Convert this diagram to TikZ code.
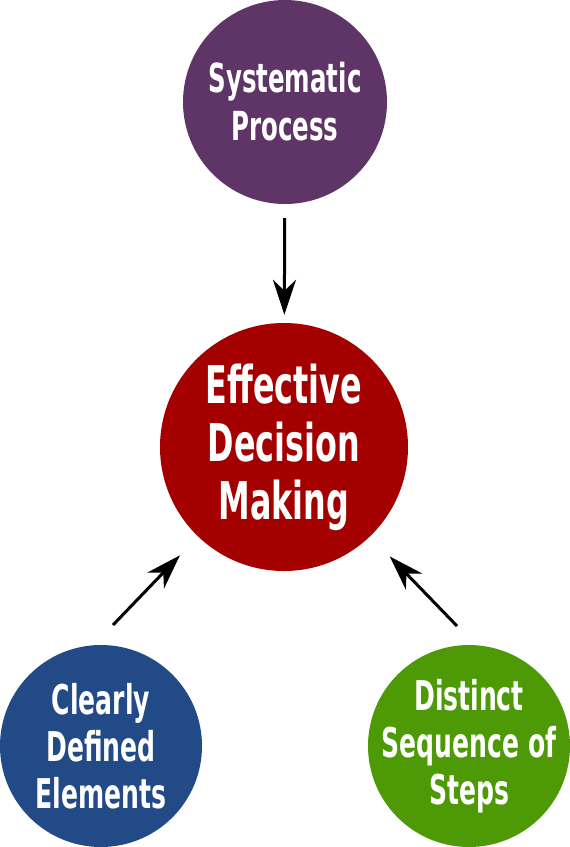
\documentclass[tikz,border=0pt]{standalone}
\usepackage{fontspec}
\setmainfont{DejaVu Sans Condensed}[BoldFont={DejaVu Sans Condensed Bold},BoldFeatures={FakeStretch=0.68},FakeStretch=0.68]
\usetikzlibrary{arrows.meta}
\definecolor{cpurple}{HTML}{5E3566}
\definecolor{cred}{HTML}{A40000}
\definecolor{cblue}{HTML}{224A87}
\definecolor{cgreen}{HTML}{4E9A06}
\newcommand\zl[1]{\makebox[0pt]{#1}}
\begin{document}
\begin{tikzpicture}[x=1pt,y=-1pt,
  bubble/.style={circle,inner sep=0pt,text=white,align=center,font=\bfseries},
  outertext/.style={font=\bfseries\fontsize{40}{48}\selectfont},
  arr/.style={line width=3pt,-{Stealth[length=35pt,width=23pt,inset=11pt]}}]
\useasboundingbox (0,0) rectangle (570,847);
\node[bubble,fill=cpurple,minimum size=204pt,outertext] (sp) at (285,102) {\zl{Systematic}\\\zl{Process}};
\node[bubble,fill=cred,minimum size=248pt,font=\bfseries\fontsize{52}{58}\selectfont] (edm) at (284,447) {\zl{Effective}\\\zl{Decision}\\\zl{Making}};
\node[bubble,fill=cblue,minimum size=202pt,font=\bfseries\fontsize{41}{47}\selectfont] (cde) at (101,746) {\zl{Clearly}\\\zl{Defined}\\\zl{Elements}};
\node[bubble,fill=cgreen,minimum size=202pt,font=\bfseries\fontsize{41}{47}\selectfont] (dss) at (469,746) {\zl{Distinct}\\\zl{Sequence of}\\\zl{Steps}};
\coordinate (s1) at (113,625);
\coordinate (s2) at (457,626);
\draw[arr,shorten <=14pt,shorten >=8pt] (sp) -- (edm);
\draw[arr,shorten >=26pt] (s1) -- (edm);
\draw[arr,shorten >=28pt] (s2) -- (edm);
\end{tikzpicture}
\end{document}
